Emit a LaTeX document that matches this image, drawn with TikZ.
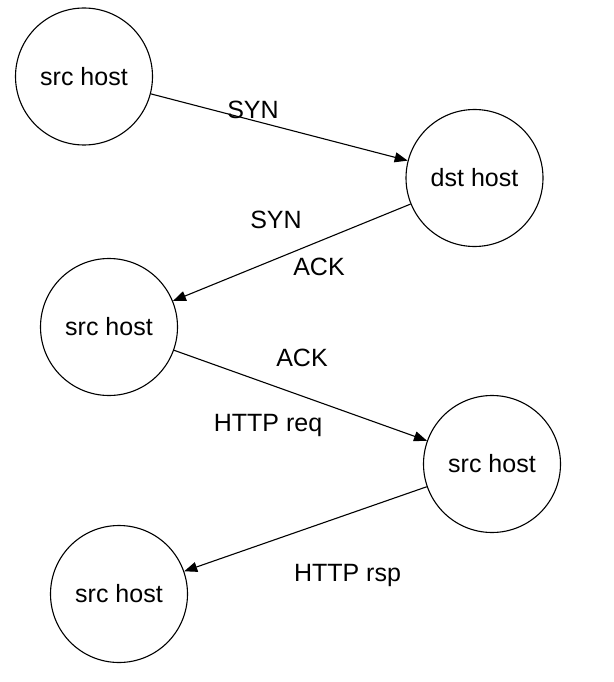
\documentclass[tikz,border=0pt]{standalone}
\usepackage{fontspec}
\setmainfont{Liberation Sans}
\usetikzlibrary{arrows.meta}
\begin{document}
\begin{tikzpicture}[x=1pt,y=-1pt,
  host/.style={circle,draw,line width=1.1pt,minimum size=137pt,inner sep=0pt,font=\fontsize{25}{30}\selectfont},
  msg/.style={draw,line width=1.1pt,-{Triangle[length=13pt,width=10pt]}},
  lbl/.style={anchor=base,inner sep=0pt,font=\fontsize{25}{30}\selectfont}]
\useasboundingbox (0,0) rectangle (613,682);
\node[host] (h1) at (84,76.5) {src host};
\node[host] (h2) at (474.5,178) {dst host};
\node[host] (h3) at (109,327) {src host};
\node[host] (h4) at (492,464) {src host};
\node[host] (h5) at (119,594) {src host};
\draw[msg] (h1) -- (h2);
\draw[msg] (h2) -- (h3);
\draw[msg] (h3) -- (h4);
\draw[msg] (h4) -- (h5);
\node[lbl] (l1) at (253,119) {SYN};
\node[lbl] (l2) at (276,228) {SYN};
\node[lbl] (l3) at (319,275) {ACK};
\node[lbl] (l4) at (302,366) {ACK};
\node[lbl] (l5) at (268,431.5) {HTTP req};
\node[lbl] (l6) at (347.5,581.5) {HTTP rsp};
\end{tikzpicture}
\end{document}
